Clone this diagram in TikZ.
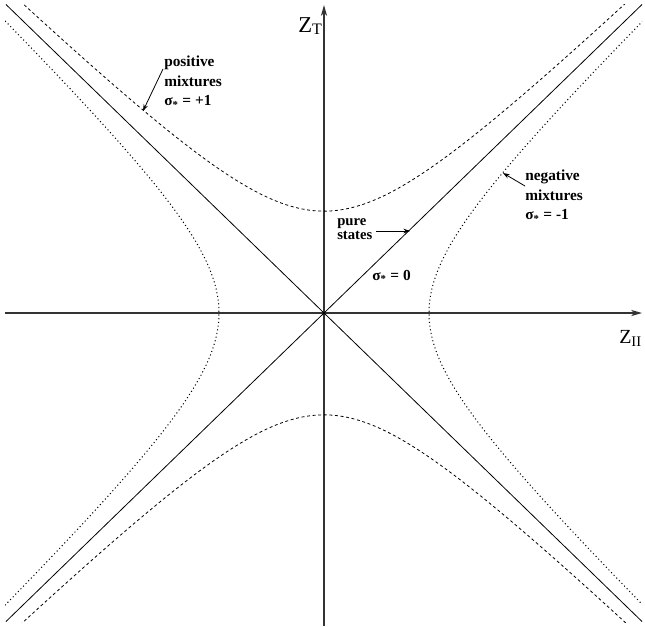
\documentclass[tikz,border=0pt]{standalone}
\usepackage{fontspec}
\setmainfont{Liberation Serif}
\usetikzlibrary{arrows.meta}
\begin{document}
\begin{tikzpicture}[x=0.75pt,y=-0.75pt,
  axis/.style={line width=1pt, black!80, -{Stealth[length=8pt,width=4.5pt,inset=2pt]}},
  asym/.style={line width=0.6pt},
  posmix/.style={line width=0.6pt, dash pattern=on 2.2pt off 2pt},
  negmix/.style={line width=0.75pt, dash pattern=on 0.8pt off 2pt},
  pointer/.style={line width=0.6pt, -{Stealth[length=5pt,width=3.5pt]}},
  lbl/.style={font=\bfseries\fontsize{11.5}{14.6}\selectfont, align=left, inner sep=0pt},
  axlbl/.style={inner sep=0pt, anchor=base west}]
\useasboundingbox (0,0) rectangle (645,626);
\fill[white] (0,0) rectangle (645,626);
% axes
\coordinate (O) at (324,313);
\coordinate (xl) at (5,313);
\coordinate (xr) at (642,313);
\coordinate (yb) at (324,626);
\coordinate (yt) at (324,5);
\draw[axis] (xl) -- (xr);
\draw[axis] (yb) -- (yt);
% asymptotes (pure states)
\coordinate (d1a) at (6,4.5);
\coordinate (d1b) at (642,621.5);
\coordinate (d2a) at (6,621.5);
\coordinate (d2b) at (642,4.5);
\draw[asym] (d1a) -- (d1b);
\draw[asym] (d2a) -- (d2b);
% hyperbolas
\begin{scope}
\clip (5,4) rectangle (642,622);
\draw[posmix] plot[domain=-1.95:1.95, samples=150, variable=\q] ({324+105*sinh(\q)},{313-101.85*cosh(\q)});
\draw[posmix] plot[domain=-1.95:1.95, samples=150, variable=\q] ({324+105*sinh(\q)},{313+101.85*cosh(\q)});
\draw[negmix] plot[domain=-1.95:1.95, samples=150, variable=\q] ({324-105*cosh(\q)},{313+101.85*sinh(\q)});
\draw[negmix] plot[domain=-1.95:1.95, samples=150, variable=\q] ({324+105*cosh(\q)},{313+101.85*sinh(\q)});
\end{scope}
% labels
\node[lbl, anchor=north west] (pos) at (164,56) {positive\\mixtures\\σ\textsubscript{*} = +1};
\node[lbl, anchor=north west] (neg) at (525,170) {negative\\mixtures\\σ\textsubscript{*} = -1};
\node[lbl, anchor=north west, font=\bfseries\fontsize{11}{10.9}\selectfont] (pure) at (337,218) {pure\\states};
\node[lbl, anchor=base west] (sig0) at (372,280) {σ\textsubscript{*} = 0};
\node[axlbl, font=\fontsize{17}{17}\selectfont] (zt) at (298,32) {Z\raisebox{-1.5pt}{\fontsize{12}{12}\selectfont T}};
\node[axlbl, font=\fontsize{15}{15}\selectfont] (zii) at (619,343) {Z\raisebox{-2.5pt}{\fontsize{11}{11}\selectfont II}};
% pointers
\coordinate (posTail) at (163,69);
\coordinate (posHead) at (143,111);
\coordinate (negTail) at (525,186);
\coordinate (negHead) at (503,173);
\coordinate (pureTail) at (376,231);
\coordinate (pureHead) at (410,231);
\draw[pointer] (posTail) -- (posHead);
\draw[pointer] (negTail) -- (negHead);
\draw[pointer] (pureTail) -- (pureHead);
\end{tikzpicture}
\end{document}
